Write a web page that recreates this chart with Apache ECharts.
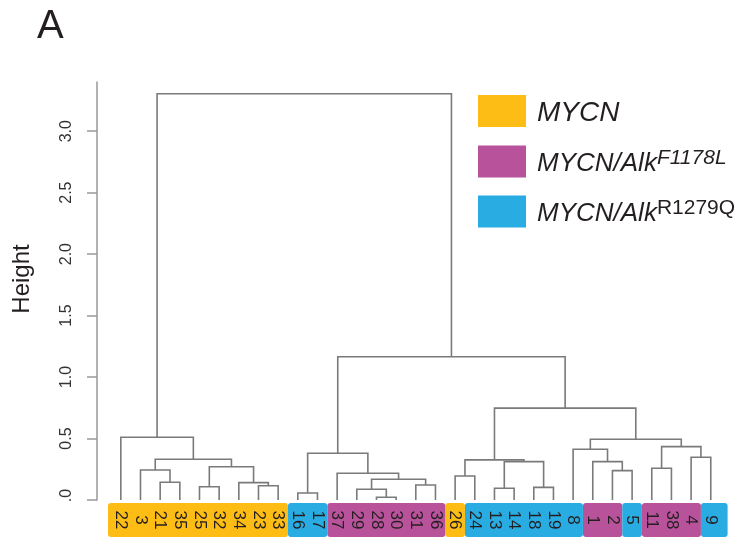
<!DOCTYPE html>
<html>
<head>
<meta charset="utf-8">
<script src="https://cdn.jsdelivr.net/npm/echarts@6/dist/echarts.min.js"></script>
<style>
html, body { margin: 0; padding: 0; background: #fff; }
#chart { width: 744px; height: 540px; }
</style>
</head>
<body>
<div id="chart"></div>
<script>
// leaves left to right, as they hang in the tree
var leafOrder = ['22', '3', '21', '35', '25', '32', '34', '23', '33', '16', '17', '37', '29', '28', '30', '31',
    '36', '26', '24', '13', '14', '18', '19', '8', '1', '2', '5', '11', '38', '4', '9'];
// 0 = MYCN, 1 = MYCN/Alk F1178L, 2 = MYCN/Alk R1279Q
var leafGroup = [0, 0, 0, 0, 0, 0, 0, 0, 0, 2, 2, 1, 1, 1, 1, 1, 1, 0, 2, 2, 2, 2, 2, 2, 1, 1, 2, 1, 1, 1, 2];

var groupNames = ['MYCN', 'MYCN/Alk F1178L', 'MYCN/Alk R1279Q'];
var groupBase = ['MYCN', 'MYCN/Alk', 'MYCN/Alk'];
var groupSup = ['', 'F1178L', 'R1279Q'];
var groupColors = ['#FDBD14', '#B8529B', '#29ACE2'];

// merges like R hclust: negative = sample id, positive = earlier merge step (1 based)
var mergeLeft   = [-28, -16, -29, -13, -18, -25, -23, -31, -34, -21, 3, -26, -37, -2, -3,
    -11, 6, -1, 4, 12, 15, -4, 2, -8, 16, 24, -22, 20, 23, 27];
var mergeRight  = [-30, -17, 1, -14, -19, -32, -33, -36, 7, -35, 8, -24, 11, -5, 10,
    -38, 9, 14, 5, 19, 17, -9, 13, 18, 22, 25, 21, 26, 28, 29];
var mergeHeight = [0.022, 0.057, 0.087, 0.095, 0.103, 0.108, 0.116, 0.122, 0.141, 0.144, 0.169, 0.195, 0.217, 0.239, 0.244,
    0.258, 0.271, 0.312, 0.312, 0.326, 0.331, 0.348, 0.380, 0.413, 0.434, 0.494, 0.510, 0.747, 1.165, 3.304];

var yTicks = [0, 0.5, 1, 1.5, 2, 2.5, 3];

var FONT = 'Liberation Sans';

// positions of the nodes, leaves sit at their index and height 0
var leafPos = {};
leafOrder.forEach(function (id, i) { leafPos[id] = i; });
var nodeX = [];
var nodeH = [];
function childPos(ref) {
    if (ref < 0) return [leafPos[String(-ref)], 0];
    return [nodeX[ref - 1], nodeH[ref - 1]];
}
var links = [];
for (var i = 0; i < mergeHeight.length; i++) {
    var l = childPos(mergeLeft[i]);
    var r = childPos(mergeRight[i]);
    nodeX.push((l[0] + r[0]) / 2);
    nodeH.push(mergeHeight[i]);
    links.push([l[0], l[1], r[0], r[1], mergeHeight[i]]);
}

// runs of neighbouring leaves with the same group -> coloured boxes
var runs = [[], [], []];
var start = 0;
for (var k = 1; k <= leafGroup.length; k++) {
    if (k === leafGroup.length || leafGroup[k] !== leafGroup[start]) {
        runs[leafGroup[start]].push([start, k - 1]);
        start = k;
    }
}

var bandSeries = groupNames.map(function (name, g) {
    return {
        name: name,
        type: 'custom',
        silent: true,
        z: 2,
        itemStyle: { color: groupColors[g] },
        data: runs[g],
        renderItem: function (params, api) {
            var a = api.coord([api.value(0) - 0.5, 0]);
            var b = api.coord([api.value(1) + 0.5, 0]);
            var x0 = a[0], x1 = b[0];
            if (api.value(0) === 0) x0 -= 3;
            if (api.value(1) === leafOrder.length - 1) x1 += 7;
            return {
                type: 'rect',
                shape: { x: x0, y: a[1] + 3, width: x1 - x0, height: 34, r: 3 },
                style: { fill: groupColors[g] }
            };
        }
    };
});

var labelSeries = {
    type: 'custom',
    silent: true,
    z: 4,
    data: leafOrder.map(function (id, i) { return [i, 0]; }),
    renderItem: function (params, api) {
        var p = api.coord([api.value(0), 0]);
        return {
            type: 'text',
            x: p[0],
            y: p[1] + 20,
            rotation: -Math.PI / 2,
            style: {
                text: leafOrder[params.dataIndex],
                fill: '#231F20',
                fontSize: 17,
                fontFamily: FONT,
                align: 'center',
                verticalAlign: 'middle'
            }
        };
    }
};

var treeSeries = {
    type: 'custom',
    silent: true,
    z: 3,
    data: links,
    renderItem: function (params, api) {
        var p0 = api.coord([api.value(0), api.value(1)]);
        var p1 = api.coord([api.value(0), api.value(4)]);
        var p2 = api.coord([api.value(2), api.value(4)]);
        var p3 = api.coord([api.value(2), api.value(3)]);
        return {
            type: 'polyline',
            shape: { points: [p0, p1, p2, p3] },
            style: { stroke: '#7a7a7a', lineWidth: 1.6, fill: null }
        };
    }
};

var chart = echarts.init(document.getElementById('chart'));

var option = {
    animation: false,
    backgroundColor: '#fff',
    textStyle: { fontFamily: FONT },
    title: {
        text: 'A',
        left: 37,
        top: 7,
        padding: 0,
        textStyle: { fontSize: 40, fontWeight: 'normal', color: '#231F20', fontFamily: FONT }
    },
    legend: {
        orient: 'vertical',
        left: 478,
        top: 95,
        padding: 0,
        itemGap: 18,
        itemWidth: 48,
        itemHeight: 32,
        icon: 'rect',
        selectedMode: false,
        data: groupNames,
        formatter: function (name) {
            var g = groupNames.indexOf(name);
            if (!groupSup[g]) return '{big|' + groupBase[g] + '}';
            return '{main|' + groupBase[g] + '}{' + (g === 1 ? 'supI' : 'sup') + '|' + groupSup[g] + '}';
        },
        textStyle: {
            color: '#231F20',
            padding: [5, 0, 0, 6],
            rich: {
                big: { fontSize: 28, fontStyle: 'italic', fontFamily: FONT, color: '#231F20', lineHeight: 32 },
                main: { fontSize: 26, fontStyle: 'italic', fontFamily: FONT, color: '#231F20', lineHeight: 32 },
                supI: { fontSize: 21, fontStyle: 'italic', fontFamily: FONT, color: '#231F20', lineHeight: 22, verticalAlign: 'top' },
                sup: { fontSize: 21, fontFamily: FONT, color: '#231F20', lineHeight: 22, verticalAlign: 'top' }
            }
        }
    },
    grid: {
        left: 111,
        right: 23.4,
        top: 82,
        bottom: 40,
        containLabel: false,
        outerBoundsMode: 'none'
    },
    xAxis: {
        type: 'value',
        min: -0.5,
        max: leafOrder.length - 0.5,
        show: false
    },
    yAxis: {
        type: 'value',
        min: 0,
        max: 3.4,
        offset: 14,
        name: 'Height',
        nameLocation: 'middle',
        nameGap: 63,
        nameTextStyle: { fontSize: 24, color: '#231F20', fontFamily: FONT, padding: [0, 0, 0, 24] },
        axisLine: { show: true, onZero: false, lineStyle: { color: '#999', width: 1.5 } },
        axisTick: { show: true, length: 10, customValues: yTicks, lineStyle: { color: '#999', width: 1.5 } },
        axisLabel: {
            customValues: yTicks,
            rotate: 90,
            margin: 22,
            fontSize: 16,
            color: '#333',
            fontFamily: FONT,
            formatter: function (v) {
                return v === 0 ? '{z|.0}' : v.toFixed(1);
            },
            rich: {
                z: { fontSize: 16, color: '#333', fontFamily: FONT, padding: [0, 0, 0, 9] }
            }
        },
        splitLine: { show: false }
    },
    series: [treeSeries].concat(bandSeries).concat([labelSeries])
};

chart.setOption(option);
</script>
</body>
</html>
